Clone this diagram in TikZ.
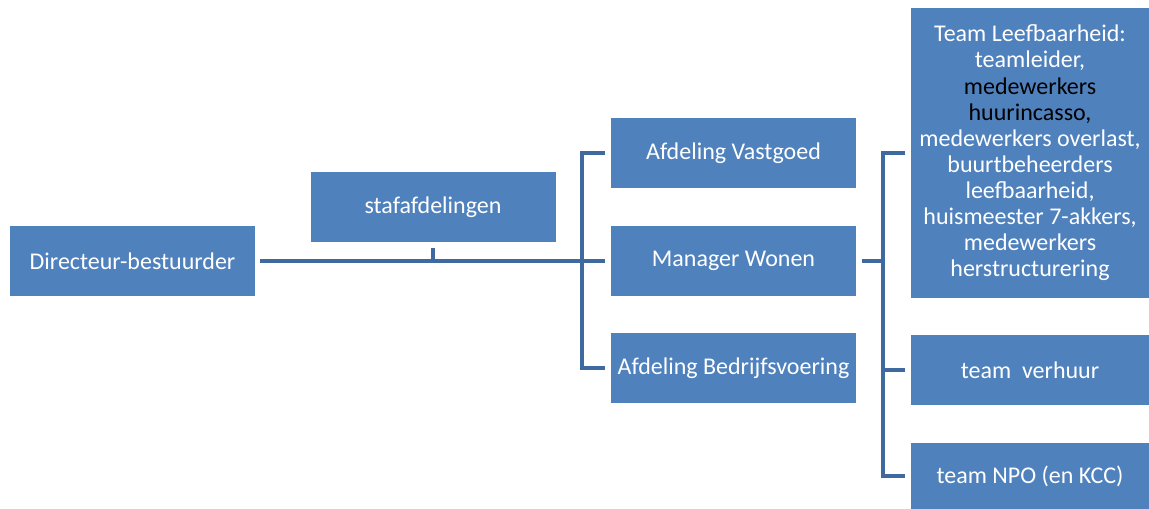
\documentclass[tikz,border=0pt]{standalone}
\usepackage{fontspec}
\setmainfont{Carlito}
\usetikzlibrary{calc}
\usetikzlibrary{positioning}

\definecolor{boxblue}{HTML}{4F81BD}
\definecolor{lineblue}{HTML}{3F6A9F}

\begin{document}
\begin{tikzpicture}[x=0.75pt,y=-0.75pt,
    unit/.style={fill=boxblue,text=white,inner sep=0pt,align=center,
      minimum width=183.75pt,minimum height=52.5pt,
      font=\fontsize{18}{19.6}\selectfont},
    team/.style={unit,minimum width=178.5pt},
    link/.style={lineblue,line width=3pt}]
          \useasboundingbox (0,0) rectangle (1149,509);

          % left part
          \node[unit] (dir) at (132.5,261) {Directeur-bestuurder};
          \node[unit] (staf) at (433,207) {stafafdelingen};

          % managers
          \node[unit] (vast) at (733.5,153) {Afdeling Vastgoed};
          \node[unit] (wonen) at (733.5,261) {Manager Wonen};
          \node[unit] (bedr) at (733.5,368) {Afdeling Bedrijfsvoering};

          % teams
          \node[team,minimum height=217.5pt] (leef) at (1030,153)
          {Team Leefbaarheid:\\ teamleider,\\ {\color{black}medewerkers}\\
            {\color{black}huurincasso,}\\ medewerkers overlast,\\ buurtbeheerders\\
            leefbaarheid,\\ huismeester 7-akkers,\\ medewerkers\\ herstructurering};
          \node[team] (verh) at (1030,370) {team\ \ verhuur};
          \node[team,minimum height=49.5pt] (npo) at (1030,476) {team NPO (en KCC)};

          \coordinate (split1) at ($(vast.west)+(-29,0)$);
          \coordinate (split2) at ($(wonen.east)+(27,0)$);

          \draw[link] ($(dir.east)+(5,0)$) -- ($(wonen.west)+(-6,0)$);
          \draw[link] ($(staf.south)+(0,6)$) -- (staf.south |- dir.east);
          \draw[link] ($(vast.west)+(-6,0)$) -| (split1 |- bedr.west)
          -- ($(bedr.west)+(-6,0)$);

          \draw[link] ($(wonen.east)+(6,0)$) -- (split2);
          \draw[link] ($(leef.west)+(-6,0)$) -| (split2 |- npo.west)
          -- ($(npo.west)+(-6,0)$);
          \draw[link] (split2 |- verh.west) -- ($(verh.west)+(-6,0)$);
        \end{tikzpicture}
\end{document}
